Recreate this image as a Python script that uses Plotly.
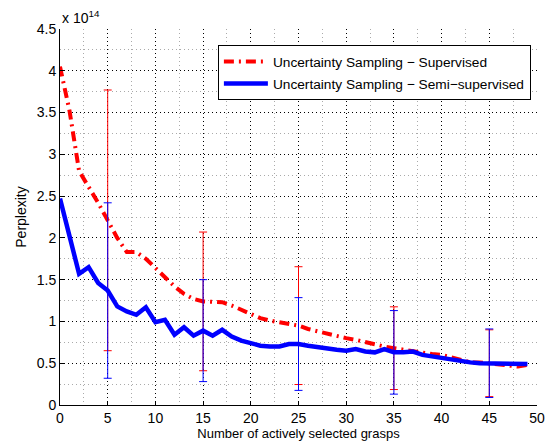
import plotly.graph_objects as go

# Data (perplexity in units of 1e14)
x_vals = list(range(50))
supervised = [4.05, 3.52, 2.80, 2.62, 2.42, 2.21, 2.00, 1.83, 1.83, 1.75,
              1.64, 1.52, 1.42, 1.33, 1.27, 1.24, 1.24, 1.23, 1.19, 1.14,
              1.09, 1.04, 1.01, 0.99, 0.97, 0.95, 0.91, 0.88, 0.85, 0.82,
              0.80, 0.78, 0.75, 0.72, 0.70, 0.68, 0.66, 0.64, 0.63, 0.61,
              0.60, 0.57, 0.53, 0.51, 0.51, 0.50, 0.48, 0.47, 0.46, 0.48]
semi_supervised = [2.47, 2.02, 1.57, 1.65, 1.46, 1.37, 1.18, 1.12, 1.08, 1.17,
                   0.99, 1.02, 0.84, 0.93, 0.83, 0.89, 0.83, 0.90, 0.82, 0.77,
                   0.74, 0.71, 0.70, 0.70, 0.73, 0.73, 0.71, 0.69, 0.68, 0.66,
                   0.65, 0.67, 0.64, 0.63, 0.67, 0.63, 0.63, 0.64, 0.60, 0.58,
                   0.56, 0.54, 0.52, 0.51, 0.50, 0.50, 0.50, 0.49, 0.49, 0.49]
err_x = [5, 15, 25, 35, 45]
supervised_err = [1.56, 0.83, 0.705, 0.495, 0.40]
semi_err = [1.05, 0.61, 0.555, 0.50, 0.41]

x_ticks = [0, 5, 10, 15, 20, 25, 30, 35, 40, 45, 50]
y_ticks = [0, 0.5, 1, 1.5, 2, 2.5, 3, 3.5, 4, 4.5]
y_ticktext = ["0", "0.5", "1", "1.5", "2", "2.5", "3", "3.5", "4", "4.5"]

name_sup = "Uncertainty Sampling \u2212 Supervised"
name_semi = "Uncertainty Sampling \u2212 Semi\u2212supervised"

RED = "#ff0000"
BLUE = "#0000ff"

fig = go.Figure()

fig.add_trace(go.Scatter(
    x=x_vals, y=supervised, mode="lines", name=name_sup,
    line=dict(color=RED, width=4, dash="10px,5px,2px,5px"),
    legendgroup="a"))
fig.add_trace(go.Scatter(
    x=err_x, y=[supervised[i] for i in err_x], mode="markers",
    marker=dict(size=1, opacity=0), showlegend=False, hoverinfo="skip",
    error_y=dict(type="data", array=supervised_err, visible=True,
                 color=RED, thickness=1, width=4)))
fig.add_trace(go.Scatter(
    x=x_vals, y=semi_supervised, mode="lines", name=name_semi,
    line=dict(color=BLUE, width=4.5),
    legendgroup="b"))
fig.add_trace(go.Scatter(
    x=err_x, y=[semi_supervised[i] for i in err_x], mode="markers",
    marker=dict(size=1, opacity=0), showlegend=False, hoverinfo="skip",
    error_y=dict(type="data", array=semi_err, visible=True,
                 color=BLUE, thickness=1, width=4)))

FONT = "Liberation Sans, Arial, Helvetica, sans-serif"

fig.update_layout(
    width=550, height=445,
    margin=dict(l=60, r=13, t=29, b=40, autoexpand=False),
    paper_bgcolor="white", plot_bgcolor="white",
    font=dict(family=FONT, size=14, color="#000000"),
    showlegend=True,
    legend=dict(
        x=0.331, y=0.957, xanchor="left", yanchor="top",
        bgcolor="white", bordercolor="black", borderwidth=1,
        font=dict(family=FONT, size=13.7, color="#000000"),
        traceorder="grouped", tracegroupgap=1, itemwidth=44,
    ),
    xaxis=dict(
        range=[0, 50], tickvals=x_ticks, ticktext=[str(v) for v in x_ticks],
        showline=True, linecolor="black", linewidth=1, mirror=False,
        ticks="inside", ticklen=4, tickcolor="black",
        showgrid=True, gridcolor="#000000", griddash="1px,3px", gridwidth=1,
        minor=dict(dtick=2.5, showgrid=True, gridcolor="#aaaaaa",
                   griddash="1px,3px", ticks=""),
        zeroline=False, automargin=False,
        title=dict(text="Number of actively selected grasps", standoff=0,
                   font=dict(size=13)),
        tickfont=dict(size=14),
    ),
    yaxis=dict(
        range=[0, 4.5], tickvals=y_ticks, ticktext=y_ticktext,
        showline=True, linecolor="black", linewidth=1, mirror=False,
        ticks="inside", ticklen=4, tickcolor="black",
        showgrid=True, gridcolor="#000000", griddash="1px,3px", gridwidth=1,
        minor=dict(dtick=0.25, showgrid=True, gridcolor="#aaaaaa",
                   griddash="1px,3px", ticks=""),
        zeroline=False, automargin=False,
        title=dict(text="Perplexity", standoff=6, font=dict(size=14)),
        tickfont=dict(size=14),
    ),
    annotations=[dict(
        x=0, y=1, xref="paper", yref="paper", xanchor="left", yanchor="bottom",
        text="x 10<sup>14</sup>", showarrow=False, yshift=1,
        font=dict(family=FONT, size=14, color="#000000"))],
)

fig.write_html("out.html", config={"displayModeBar": False},
               post_script="document.body.style.margin='0';document.body.style.overflow='hidden';")
